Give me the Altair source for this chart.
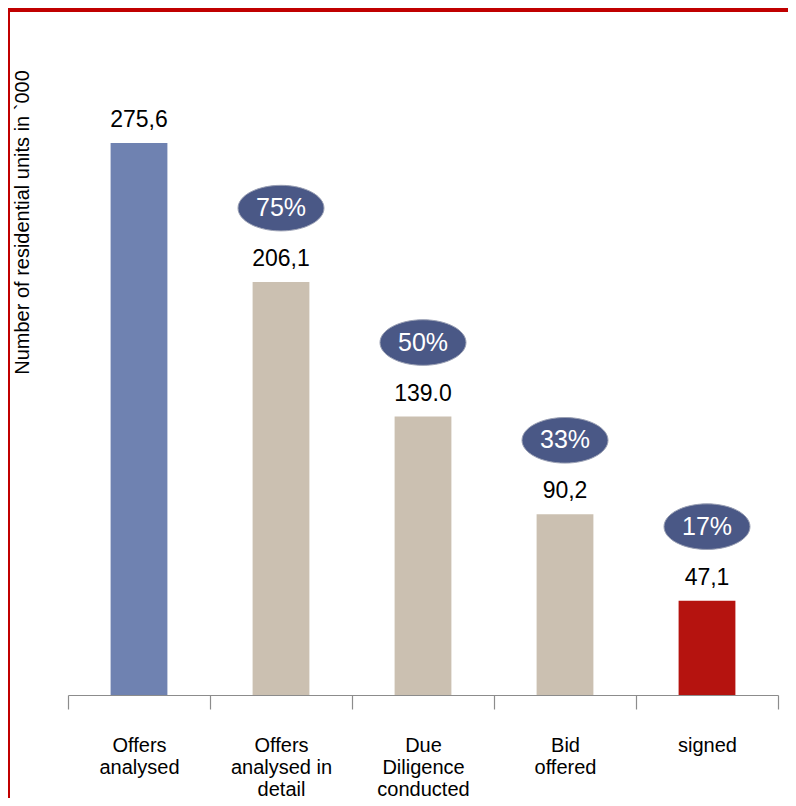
import altair as alt
import pandas as pd

stages = [
    "Offers\nanalysed",
    "Offers\nanalysed in\ndetail",
    "Due\nDiligence\nconducted",
    "Bid\noffered",
    "signed",
]
values = [275.6, 206.1, 139.0, 90.2, 47.1]
value_labels = ["275,6", "206,1", "139.0", "90,2", "47,1"]
shares = ["", "75%", "50%", "33%", "17%"]
bar_colors = ["#6f82b1", "#cbc0b1", "#cbc0b1", "#cbc0b1", "#b5130f"]

df = pd.DataFrame({
    "stage": stages,
    "value": values,
    "label": value_labels,
    "share": shares,
    "color": bar_colors,
})

W, H = 710, 601
FONT = "Liberation Sans"

x_enc = alt.X(
    "stage:N",
    sort=None,
    scale=alt.Scale(paddingInner=0, paddingOuter=0),
    axis=alt.Axis(
        title=None,
        labelAngle=0,
        labelExpr="split(datum.label, '\\n')",
        labelFont=FONT,
        labelFontSize=20,
        labelLineHeight=22,
        labelColor="#000000",
        labelPadding=26,
        labelBaseline="top",
        tickBand="extent",
        tickSize=14,
        tickColor="#8c8c8c",
        tickWidth=1.2,
        domainColor="#8c8c8c",
        domainWidth=1.2,
    ),
)
y_enc = alt.Y(
    "value:Q",
    scale=alt.Scale(domain=[0, 300], nice=False),
    axis=alt.Axis(
        title="Number of residential units in `000",
        titleFont=FONT,
        titleFontSize=20,
        titleFontWeight="normal",
        titleColor="#000000",
        titleX=-46,
        titleY=128,
        titleAngle=-90,
        titleAlign="center",
        titleBaseline="middle",
        labels=False,
        ticks=False,
        domain=False,
        grid=False,
    ),
)

base = alt.Chart(df).encode(x=x_enc, y=y_enc)

bars = base.mark_bar(width=alt.RelativeBandSize(0.4)).encode(
    color=alt.Color("color:N", scale=None)
)

labels = base.mark_text(
    font=FONT, fontSize=23, color="#000000", baseline="middle", dy=-23
).encode(text="label:N")

share_df = df[df["share"] != ""]
ellipse_path = "M -1 0 A 1 0.53 0 1 0 1 0 A 1 0.53 0 1 0 -1 0 Z"
ellipses = alt.Chart(share_df).mark_point(
    shape=ellipse_path,
    size=86 * 86,
    filled=True,
    fill="#4a5886",
    fillOpacity=1,
    stroke="#9aa0b4",
    strokeWidth=1,
    yOffset=-74,
).encode(x=x_enc, y=y_enc)

share_text = alt.Chart(share_df).mark_text(
    font=FONT, fontSize=25, color="#ffffff", baseline="middle", yOffset=-74
).encode(x=x_enc, y=y_enc, text="share:N")

top_band = alt.Chart(df).mark_rect(color="#c00000").encode(
    x=alt.value(-60), x2=alt.value(720), y=alt.value(-86), y2=alt.value(-82)
)
left_line = alt.Chart(df).mark_rule(color="#c00000", strokeWidth=1.5).encode(
    x=alt.value(-59), y=alt.value(-86), y2=alt.value(H + 103)
)

chart = alt.layer(bars, labels, ellipses, share_text, top_band, left_line).properties(
    width=W,
    height=H,
    autosize=alt.AutoSizeParams(type="none"),
    padding={"left": 60, "top": 86, "right": 10, "bottom": 103},
).configure_view(stroke=None)

chart.save("out.html", embed_options={"renderer": "svg", "actions": False})
